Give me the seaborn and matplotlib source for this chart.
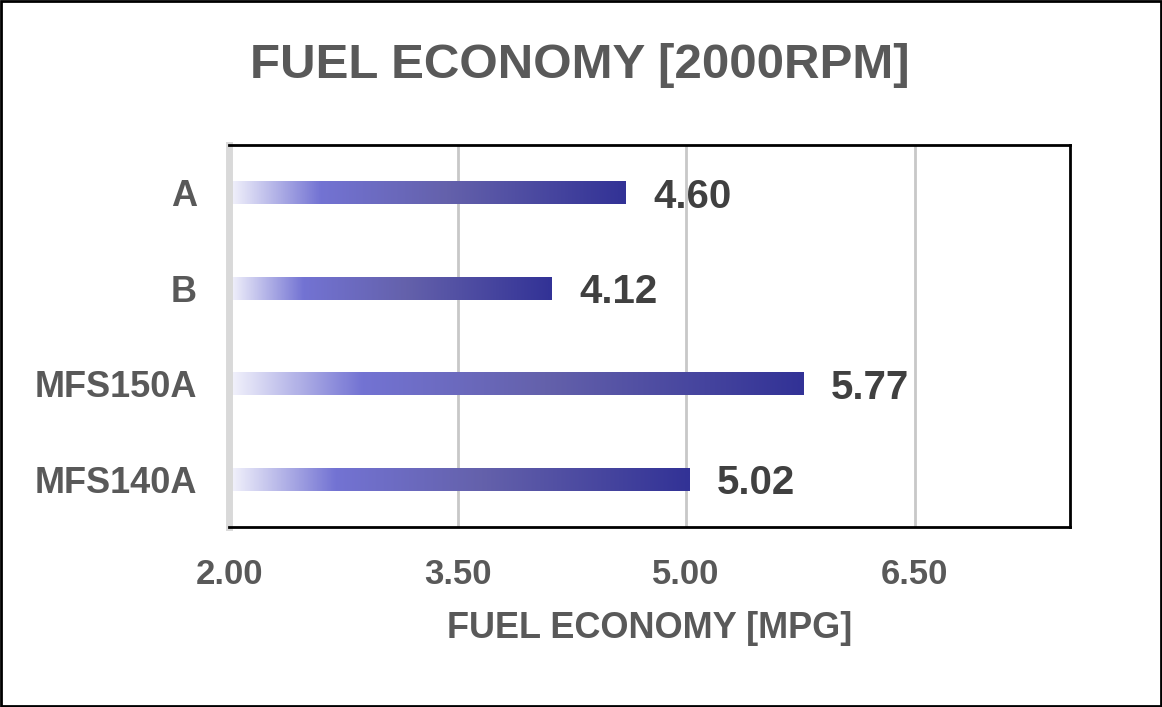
import numpy as np
import pandas as pd
import matplotlib
matplotlib.use("Agg")
import matplotlib.pyplot as plt
from matplotlib.colors import LinearSegmentedColormap
from matplotlib.patches import Rectangle
import seaborn as sns

# data
categories = ["A", "B", "MFS150A", "MFS140A"]
economy = [4.60, 4.12, 5.77, 5.02]
x_ticks = [2.00, 3.50, 5.00, 6.50]

df = pd.DataFrame({"model": categories, "mpg": economy})

sns.set_style("white")
plt.rcParams["font.family"] = ["Liberation Sans", "DejaVu Sans"]
plt.rcParams["font.weight"] = "bold"

fig = plt.figure(figsize=(11.62, 7.07), dpi=100)
ax = fig.add_axes([0.1971, 0.2546, 0.7237, 0.5403])

sns.barplot(data=df, x="mpg", y="model", orient="h", width=0.24,
            color="#333399", ax=ax)

# gradient fill for each bar
grad = LinearSegmentedColormap.from_list(
    "fuel", [(0.0, "#F4F4FC"), (0.23, "#7373D3"), (0.55, "#6461AB"), (1.0, "#323296")])
ramp = np.linspace(0, 1, 256).reshape(1, -1)
xmin = 2.0
for patch in ax.patches:
    patch.set_facecolor("none")
    patch.set_edgecolor("none")
    y0 = patch.get_y()
    h = patch.get_height()
    x1 = patch.get_x() + patch.get_width()
    im = ax.imshow(ramp, cmap=grad, aspect="auto", extent=[xmin, x1, y0 + h, y0],
                   zorder=2, interpolation="bilinear")
    im.set_clip_path(patch)
    patch.set_x(xmin)
    patch.set_width(x1 - xmin)

# value labels
for i, v in enumerate(economy):
    ax.annotate(f"{v:.2f}", xy=(v, i), xytext=(20, -3), textcoords="offset points",
                ha="left", va="center", fontsize=29, fontweight="bold", color="#404040")

ax.set_xlim(2.0, 7.52)
ax.set_ylim(3.5, -0.5)
ax.set_xticks(x_ticks)
ax.set_xticklabels([f"{t:.2f}" for t in x_ticks])
ax.tick_params(axis="x", length=0, pad=22, labelsize=25, labelcolor="#595959")
ax.tick_params(axis="y", length=0, pad=23, labelsize=26, labelcolor="#595959")
for lab in ax.get_xticklabels() + ax.get_yticklabels():
    lab.set_fontweight("bold")

ax.grid(axis="x", color="#C8C8C8", linewidth=2)
ax.set_axisbelow(True)
ax.set_ylabel("")
ax.set_xlabel("FUEL ECONOMY [MPG]", fontsize=26, fontweight="bold", color="#595959", labelpad=15)

for side in ["top", "right", "bottom"]:
    ax.spines[side].set_color("black")
    ax.spines[side].set_linewidth(2)
ax.spines["left"].set_color("#D9D9D9")
ax.spines["left"].set_linewidth(5)

fig.text(0.499, 0.908, "FUEL ECONOMY [2000RPM]", ha="center", va="center",
         fontsize=35.5, fontweight="bold", color="#595959")

# outer frame
fig.patches.append(Rectangle((0.001, 0.0015), 0.998, 0.997, transform=fig.transFigure,
                             fill=False, edgecolor="black", linewidth=2))

fig.savefig("out.png", dpi=100)
